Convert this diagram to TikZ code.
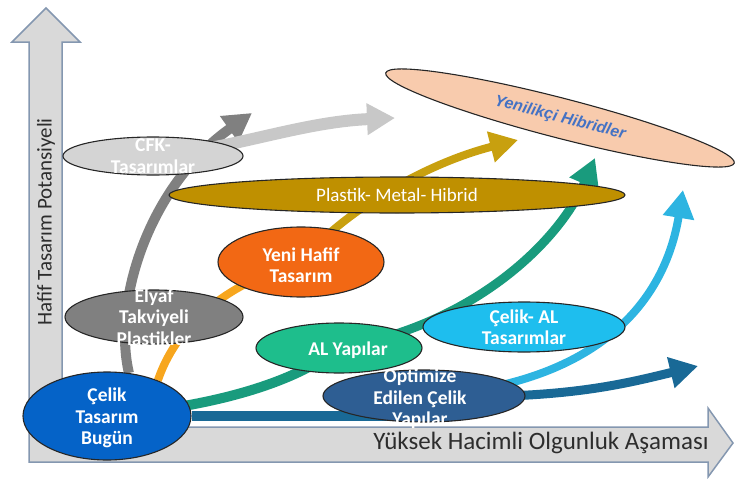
\documentclass[tikz,border=0pt]{standalone}
\usepackage{fontspec}
\setmainfont{Carlito}
\newfontfamily\hibfont{Liberation Sans}
\usetikzlibrary{arrows.meta,shapes.geometric}
\definecolor{axF}{RGB}{217,217,217}
\definecolor{axD}{RGB}{132,151,176}
\definecolor{axT}{RGB}{45,45,45}
\definecolor{cbC}{RGB}{5,99,200}
\definecolor{etC}{RGB}{128,128,128}
\definecolor{cfkC}{RGB}{212,212,212}
\definecolor{yhC}{RGB}{242,104,20}
\definecolor{pmC}{RGB}{191,144,0}
\definecolor{ynC}{RGB}{248,203,173}
\definecolor{ynT}{RGB}{68,114,196}
\definecolor{alC}{RGB}{30,190,140}
\definecolor{caC}{RGB}{30,190,238}
\definecolor{ocC}{RGB}{46,94,147}
\definecolor{grD}{RGB}{128,128,128}
\definecolor{grL}{RGB}{200,200,200}
\definecolor{orL}{RGB}{247,166,30}
\definecolor{goC}{RGB}{200,160,15}
\definecolor{teC}{RGB}{25,155,125}
\definecolor{cyC}{RGB}{45,180,225}
\definecolor{blC}{RGB}{25,105,150}
\pgfdeclarelayer{back}
\pgfsetlayers{back,main}
\tikzset{ov/.append style={ellipse, draw=black!85, line width=1.1pt, inner sep=0pt}}
\tikzset{wt/.append style={text=white, align=center, font=\bfseries\fontsize{19.5}{21.5}\selectfont}}
\tikzset{band/.append style={line width=9pt, -{Triangle[length=28pt,width=30pt]}}}
\tikzset{axis/.append style={fill=axF, draw=axD, line width=1.5pt, line join=miter}}

\begin{document}
\begin{tikzpicture}[x=1pt,y=-1pt]
                \useasboundingbox (0,0) rectangle (737,479);
                % ovals
                \node[ov,fill=cbC,minimum width=168,minimum height=88] (cb) at (107,416) {};
                \node[ov,fill=etC,minimum width=178,minimum height=54] (et) at (154,317) {};
                \node[ov,fill=cfkC,minimum width=180,minimum height=38] (cfk) at (153,156) {};
                \node[ov,fill=yhC,minimum width=166,minimum height=70] (yh) at (301,262) {};
                \node[ov,fill=pmC,minimum width=456,minimum height=36] (pm) at (397,195) {};
                \node[ov,fill=ynC,minimum width=360,minimum height=40,rotate=-14.5] (yn) at (560,118) {};
                \node[ov,fill=alC,minimum width=166,minimum height=50] (al) at (339,348) {};
                \node[ov,fill=caC,minimum width=202,minimum height=50] (ca) at (524,327) {};
                \node[ov,fill=ocC,minimum width=202,minimum height=52] (oc) at (424,396) {};
                \coordinate (t1) at (252,113);
                \coordinate (t2) at (395,118);
                \coordinate (t3) at (518,140);
                \coordinate (t4) at (595,158);
                \coordinate (t5) at (683,190);
                \coordinate (t6) at (698,366);
                \begin{pgfonlayer}{back}
                \draw[axis] (29,462) -- (29,42) -- (12,42) -- (46,8) -- (80,42) -- (62,42)
                    -- (62,427) -- (708,427) -- (708,408) -- (733,443) -- (708,477) -- (708,462) -- cycle;
                \draw[band,grD,line width=10pt] (cb.63) .. controls (112,300) and (150,185) .. (t1);
                \draw[band,grL,line width=12pt] (cfk.center) .. controls (230,150) and (300,122) .. (t2);
                \draw[orL,line width=8pt] (cb.35) .. controls (175,330) and (220,285) .. (yh.center);
                \draw[band,goC,line width=8pt] (yh.center) .. controls (340,215) and (420,165) .. (t3);
                \draw[teC,line width=10pt] (cb.center) .. controls (230,405) and (300,378) .. (al.center);
                \draw[band,teC] (al.center) .. controls (475,325) and (560,240) .. (t4);
                \draw[band,cyC,line width=8pt] (oc.center) .. controls (600,385) and (665,300) .. (t5);
                \draw[blC,line width=10pt] (cb.east) -- (cb.east -| oc.center);
                \draw[band,blC] (oc.center) .. controls (560,400) and (620,385) .. (t6);
                \end{pgfonlayer}
                % texts
                \node[wt] at ([yshift=-2]cb.center) {Çelik\\Tasarım\\Bugün};
                \node[wt] at (et) {Elyaf\\Takviyeli\\Plastikler};
                \node[wt] at (cfk) {CFK-\\Tasarımlar};
                \node[wt] at ([yshift=-3]yh.center) {Yeni Hafif\\Tasarım};
                \node[text=white,font=\fontsize{19}{22}\selectfont] at (pm) {Plastik- Metal- Hibrid};
                \node[text=ynT,rotate=-14.5,font=\hibfont\bfseries\itshape\fontsize{16}{18}\selectfont] at (yn) {Yenilikçi Hibridler};
                \node[wt] at ([xshift=9,yshift=-2]al.center) {AL Yapılar};
                \node[wt] at (ca) {Çelik- AL\\Tasarımlar};
                \node[wt] at ([xshift=-4,yshift=-3]oc.center) {Optimize\\Edilen Çelik\\Yapılar};
                \node[text=axT,rotate=90,font=\fontsize{21}{24}\selectfont] (ya) at (46,222) {Hafif Tasarım Potansiyeli};
                \node[text=axT,font=\fontsize{25}{28}\selectfont] (xa) at (541,443) {Yüksek Hacimli Olgunluk Aşaması};
            \end{tikzpicture}
\end{document}
